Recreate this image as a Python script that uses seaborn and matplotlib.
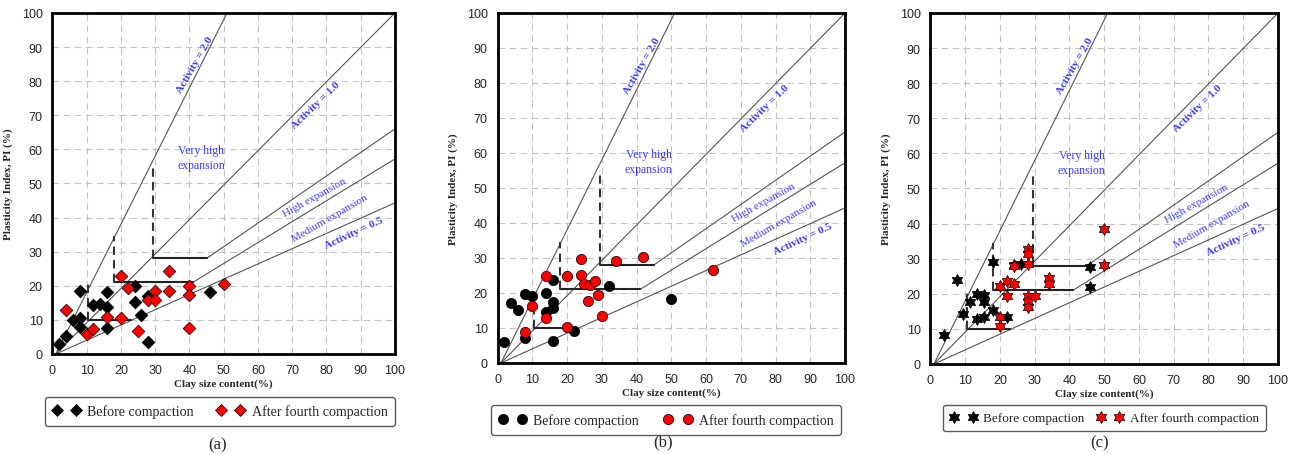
import numpy as np
import pandas as pd
import matplotlib

matplotlib.use('Agg')
import matplotlib.pyplot as plt
from matplotlib.lines import Line2D
from matplotlib.path import Path
from matplotlib.ticker import MultipleLocator
import seaborn as sns

# Panel (a) - diamonds
a_before_clay = [2, 4, 6, 8, 8, 8, 12, 14, 16, 16, 16, 24, 24, 26, 28, 28, 46]
a_before_pi = [2.9, 5.4, 10.1, 10.5, 18.6, 7.8, 14.4, 14.6, 18.1, 13.7, 7.5, 19.9, 15.3, 11.4, 16.9, 3.4, 18.1]
a_after_clay = [4, 10, 12, 16, 20, 20, 22, 25, 28, 30, 30, 34, 34, 40, 40, 40, 50]
a_after_pi = [13.0, 5.9, 7.3, 10.8, 22.8, 10.6, 19.3, 6.8, 15.9, 18.4, 15.9, 24.3, 18.4, 20.0, 17.3, 7.5, 20.4]

# Panel (b) - circles
b_before_clay = [2, 4, 6, 8, 8, 10, 14, 14, 16, 16, 16, 16, 22, 32, 50]
b_before_pi = [6.0, 17.1, 15.1, 19.7, 7.1, 19.2, 19.9, 14.5, 23.8, 17.3, 15.7, 6.4, 9.1, 22.1, 18.3]
b_after_clay = [8, 10, 14, 14, 20, 20, 24, 24, 25, 26.5, 28, 26, 29, 30, 34, 42, 62]
b_after_pi = [8.8, 16.4, 24.8, 12.8, 24.8, 10.2, 29.7, 25.1, 22.6, 22.3, 23.5, 17.8, 19.5, 13.5, 29.2, 30.4, 26.6]

# Panel (c) - stars
c_before_clay = [4, 7.5, 9.5, 11.5, 13.5, 13.5, 15.5, 15.5, 15.5, 18, 18, 22, 24, 26, 46, 46]
c_before_pi = [8.3, 23.8, 14.3, 17.8, 20.0, 12.9, 19.7, 17.8, 13.3, 15.4, 29.0, 13.5, 28.3, 28.6, 27.6, 21.9]
c_after_clay = [20, 20, 20, 22, 22, 24, 24, 28, 28, 28, 28, 30, 28, 28, 34, 34, 50, 50]
c_after_pi = [13.5, 10.8, 22.1, 23.6, 19.5, 27.9, 22.7, 32.9, 31.4, 28.6, 19.5, 19.5, 17.6, 16.2, 24.5, 22.9, 28.1, 38.6]

# activity chart boundaries (clay %, PI %)
activity_lines = {
    'A2': ([1, 51], [0, 100]),
    'A1': ([1, 100], [0, 100]),
    'A05': ([1, 100], [0, 44.3]),
    'medium': ([41, 100], [21, 57.2]),
    'high': ([45, 100], [28, 66]),
}
steps = [(10.5, 23, 10, 20.5), (18, 41, 21, 34.5), (29.5, 45, 28, 55)]

# six-pointed star (two overlapping triangles)
ang = np.deg2rad(np.arange(12) * 30 + 90)
rad = np.where(np.arange(12) % 2 == 0, 1.0, 1 / np.sqrt(3))
star_verts = np.column_stack([rad * np.cos(ang), rad * np.sin(ang)])
star_verts = np.vstack([star_verts, star_verts[:1]])
HEXAGRAM = Path(star_verts, closed=True)

sns.set_style('white')
plt.rcParams['font.family'] = ['Liberation Sans', 'DejaVu Sans']
SERIF = ['Liberation Serif', 'DejaVu Serif']
BLUE = '#3a3aff'

fig = plt.figure(figsize=(13.01, 4.56), dpi=100)

panels = [
    dict(rect=[0.0402, 0.2215, 0.2634, 0.748], m='D', s=42,
         bx=a_before_clay, by=a_before_pi, ax_=a_after_clay, ay=a_after_pi,
         leg=(0.169, 0.0954), legsize=10.1, colsp=1.6, lab=(218, 445), tag='(a)'),
    dict(rect=[0.3824, 0.2018, 0.2671, 0.7675], m='o', s=55,
         bx=b_before_clay, by=b_before_pi, ax_=b_after_clay, ay=b_after_pi,
         leg=(0.512, 0.0768), legsize=10, colsp=1.8, lab=(663, 442), tag='(b)'),
    dict(rect=[0.7152, 0.1996, 0.2671, 0.7697], m=HEXAGRAM, s=75,
         bx=c_before_clay, by=c_before_pi, ax_=c_after_clay, ay=c_after_pi,
         leg=(0.849, 0.081), legsize=9.5, colsp=0.9, lab=(1100, 443), tag='(c)'),
]

for p in panels:
    ax = fig.add_axes(p['rect'])
    ax.set_xlim(0, 100)
    ax.set_ylim(0, 100)
    ax.xaxis.set_major_locator(MultipleLocator(10))
    ax.yaxis.set_major_locator(MultipleLocator(10))
    ax.xaxis.set_minor_locator(MultipleLocator(2))
    ax.yaxis.set_minor_locator(MultipleLocator(2))
    ax.grid(True, which='major', color='#c4c4c4', linestyle=(0, (6, 4)), linewidth=0.8)
    ax.set_axisbelow(True)
    for sp in ax.spines.values():
        sp.set_visible(True)
        sp.set_color('black')
        sp.set_linewidth(2)
    ax.tick_params(which='major', direction='out', length=4, width=1.5, labelsize=9, pad=3)
    ax.tick_params(which='minor', direction='out', length=2.5, width=1.2)

    for key, (lx, ly) in activity_lines.items():
        ax.plot(lx, ly, color='#555555', lw=0.8, zorder=2)
    for x0, x1, yh, ytop in steps:
        ax.plot([x0, x1], [yh, yh], color='#222222', lw=1.5, zorder=2)
        ax.plot([x0, x0], [yh, ytop], color='#333333', lw=1.5, ls=(0, (4, 2.5)), zorder=2)

    sns.scatterplot(x=p['bx'], y=p['by'], marker=p['m'], s=p['s'], color='black',
                    edgecolor='black', linewidth=0.5, ax=ax, zorder=3, legend=False)
    sns.scatterplot(x=p['ax_'], y=p['ay'], marker=p['m'], s=p['s'], color='red',
                    edgecolor='black', linewidth=0.5, ax=ax, zorder=4, legend=False)

    ax.text(41.5, 85, 'Activity = 2.0', rotation=60, color=BLUE, fontsize=8, fontweight='bold',
            family=SERIF, ha='center', va='center')
    ax.text(77, 73, 'Activity = 1.0', rotation=44, color=BLUE, fontsize=8, fontweight='bold',
            family=SERIF, ha='center', va='center')
    ax.text(43.5, 57.5, 'Very high\nexpansion', color=BLUE, fontsize=8.5, family=SERIF,
            ha='center', va='center', linespacing=1.35)
    ax.text(76.5, 46, 'High expansion', rotation=29, color=BLUE, fontsize=8, family=SERIF,
            ha='center', va='center')
    ax.text(81, 40, 'Medium expansion', rotation=30, color=BLUE, fontsize=8, family=SERIF,
            ha='center', va='center')
    ax.text(88, 35.5, 'Activity = 0.5', rotation=25, color=BLUE, fontsize=8, fontweight='bold',
            family=SERIF, ha='center', va='center')

    ax.set_xlabel('Clay size content(%)', family=SERIF, fontweight='bold', fontsize=8, labelpad=2)
    ax.set_ylabel('Plasticity Index, PI (%)', family=SERIF, fontweight='bold', fontsize=8, labelpad=6)

    handles = [
        Line2D([], [], marker=p['m'], ls='', color='black', markeredgecolor='black',
               markeredgewidth=0.5, markersize=np.sqrt(p['s'])),
        Line2D([], [], marker=p['m'], ls='', color='red', markeredgecolor='black',
               markeredgewidth=0.5, markersize=np.sqrt(p['s'])),
    ]
    fig.legend(handles, ['Before compaction', 'After fourth compaction'], loc='center',
               bbox_to_anchor=p['leg'], ncol=2, numpoints=2, frameon=True, fancybox=True,
               edgecolor='#333333', prop={'family': SERIF, 'size': p['legsize']},
               handlelength=2.0, handletextpad=0.5, columnspacing=p['colsp'], borderpad=0.55)

    fig.text(p['lab'][0] / 1301, 1 - p['lab'][1] / 456, p['tag'], family=SERIF, fontsize=12,
             ha='center', va='center')

fig.savefig('out.png', dpi=100)
